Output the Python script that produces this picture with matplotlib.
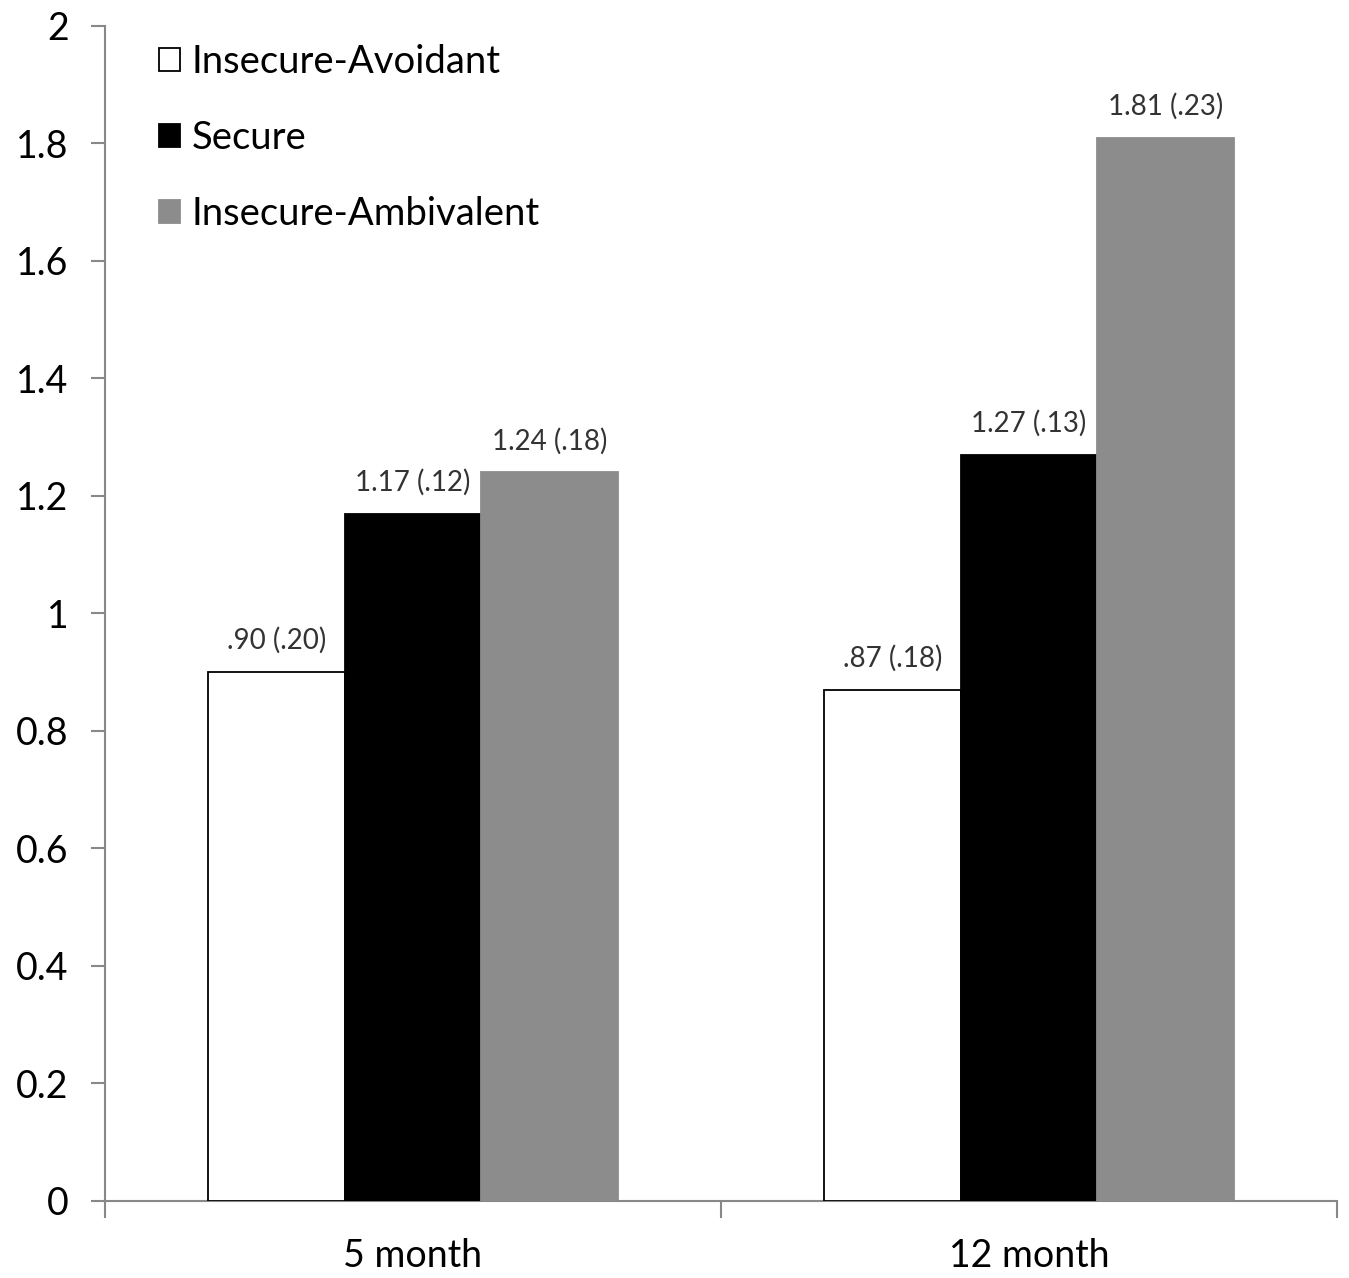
import numpy as np
import matplotlib.pyplot as plt
from matplotlib.patches import Patch

plt.rcParams['font.family'] = ['Lato', 'DejaVu Sans']

# dados
grupos = ['5 month', '12 month']
series = ['Insecure-Avoidant', 'Secure', 'Insecure-Ambivalent']
avoidant = [0.90, 0.87]
secure = [1.17, 1.27]
ambivalent = [1.24, 1.81]
rotulos_avoidant = ['.90 (.20)', '.87 (.18)']
rotulos_secure = ['1.17 (.12)', '1.27 (.13)']
rotulos_ambivalent = ['1.24 (.18)', '1.81 (.23)']

cores = ['white', 'black', '#8c8c8c']
bordas = ['black', 'black', '#8c8c8c']

fig = plt.figure(figsize=(13.49, 12.78), dpi=100)
ax = fig.add_axes([0.0778, 0.0603, 0.9133, 0.9194])

x = np.arange(len(grupos))
w = 0.222
valores = [avoidant, secure, ambivalent]
rotulos = [rotulos_avoidant, rotulos_secure, rotulos_ambivalent]

for i, (v, r) in enumerate(zip(valores, rotulos)):
    pos = x + (i - 1) * w
    ax.bar(pos, v, width=w, color=cores[i], edgecolor=bordas[i], linewidth=1.3, zorder=3)
    for px, py, txt in zip(pos, v, r):
        ax.annotate(txt, (px, py), xytext=(0, 13), textcoords='offset points',
                    ha='center', va='bottom', fontsize=20, color='#333333')

ax.set_xlim(-0.5, 1.5)
ax.set_ylim(0, 2)
ax.set_yticks(np.arange(0, 2.01, 0.2))
ax.set_yticklabels(['0', '0.2', '0.4', '0.6', '0.8', '1', '1.2', '1.4', '1.6', '1.8', '2'])
ax.set_xticks(x)
ax.set_xticklabels(grupos)
ax.set_xticks([-0.5, 0.5, 1.5], minor=True)
ax.tick_params(axis='x', which='major', length=0, labelsize=27, pad=27)
ax.tick_params(axis='x', which='minor', length=12, width=1.5, color='#888888')
ax.tick_params(axis='y', length=10, width=1.5, color='#888888', labelsize=27, pad=16)

for s in ['top', 'right']:
    ax.spines[s].set_visible(False)
for s in ['left', 'bottom']:
    ax.spines[s].set_color('#888888')
    ax.spines[s].set_linewidth(1.5)

handles = [Patch(facecolor=cores[i], edgecolor=bordas[i], linewidth=1.3) for i in range(3)]
ax.legend(handles, series, loc='upper left', bbox_to_anchor=(0.016, 1.014),
          frameon=False, fontsize=27.5, handlelength=0.55, handleheight=0.55,
          handletextpad=0.3, labelspacing=1.05)

plt.savefig('out.png')
